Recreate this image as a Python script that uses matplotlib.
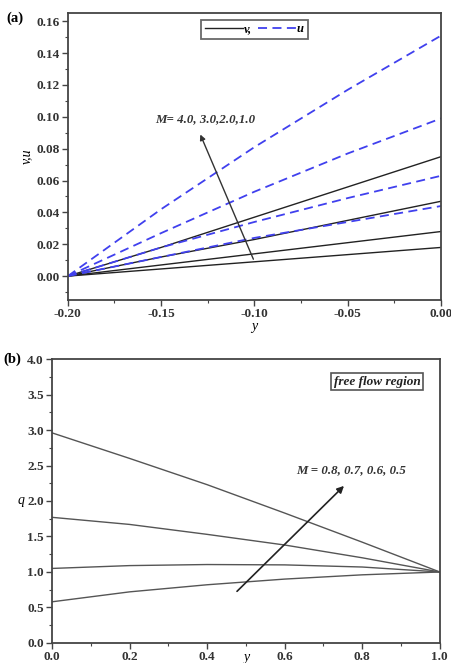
import numpy as np
import matplotlib
matplotlib.use("Agg")
import matplotlib.pyplot as plt
from matplotlib.lines import Line2D
from matplotlib.ticker import MultipleLocator

plt.rcParams['font.family'] = ['Liberation Serif', 'DejaVu Serif']
plt.rcParams['font.weight'] = 'bold'

# panel (a): y from -0.2 to 0
y_a = [-0.20, -0.15, -0.10, -0.05, 0.00]
# solid black curves (v) for M = 4.0, 3.0, 2.0, 1.0
v_curves = [
    [0.0, 0.018, 0.037, 0.056, 0.075],
    [0.0, 0.012, 0.023, 0.035, 0.047],
    [0.0, 0.007, 0.014, 0.021, 0.028],
    [0.0, 0.0045, 0.009, 0.0135, 0.018],
]
# dashed blue curves (u)
u_curves = [
    [0.0, 0.042, 0.081, 0.117, 0.151],
    [0.0, 0.027, 0.053, 0.077, 0.099],
    [0.0, 0.018, 0.034, 0.049, 0.063],
    [0.0, 0.012, 0.024, 0.034, 0.044],
]

# panel (b): y from 0 to 1
y_b = [0.0, 0.2, 0.4, 0.6, 0.8, 1.0]
q_curves = [
    [2.96, 2.60, 2.23, 1.83, 1.42, 1.00],
    [1.77, 1.67, 1.53, 1.38, 1.20, 1.00],
    [1.05, 1.09, 1.105, 1.10, 1.07, 1.00],
    [0.58, 0.72, 0.82, 0.90, 0.96, 1.00],
]

fig = plt.figure(figsize=(4.52, 6.63), dpi=100)
ax1 = fig.add_axes([0.150, 0.5475, 0.826, 0.4325])
ax2 = fig.add_axes([0.115, 0.0302, 0.858, 0.4283])

def style_axes(ax):
    for s in ax.spines.values():
        s.set_color('#444444')
        s.set_linewidth(1.3)
    ax.tick_params(which='major', direction='out', length=4, width=1.0,
                   labelsize=9.5, color='#444444', pad=2)
    ax.tick_params(which='minor', direction='out', length=2, width=0.8,
                   color='#444444')
    for lab in ax.get_xticklabels() + ax.get_yticklabels():
        lab.set_fontweight('bold')
        lab.set_color('#333333')

# ---- (a)
for c in v_curves:
    ax1.plot(y_a, c, color='#222222', lw=1.0)
for c in u_curves:
    ax1.plot(y_a, c, color='#4040ee', lw=1.3, ls=(0, (5, 3)))
ax1.set_xlim(-0.2, 0.0)
ax1.set_ylim(-0.015, 0.165)
ax1.xaxis.set_minor_locator(MultipleLocator(0.025))
ax1.yaxis.set_minor_locator(MultipleLocator(0.01))
ax1.set_xticks([-0.2, -0.15, -0.1, -0.05, 0.0])
ax1.set_xticklabels(['-0.20', '-0.15', '-0.10', '-0.05', '0.00'])
ax1.set_yticks(np.arange(0, 0.161, 0.02))
ax1.set_yticklabels(['%.2f' % t for t in np.arange(0, 0.161, 0.02)])
style_axes(ax1)
ax1.set_xlabel('y', style='italic', fontsize=10, labelpad=0)
ax1.set_ylabel('v,u', style='italic', fontsize=10, labelpad=2)
ax1.annotate('', xy=(-0.1296, 0.0905), xytext=(-0.1, 0.009),
             arrowprops=dict(arrowstyle='-|>', color='#333333', lw=1.0,
                             mutation_scale=8))
ax1.text(-0.1534, 0.0988, 'M= 4.0, 3.0,2.0,1.0', style='italic',
         fontsize=9.3, va='center', ha='left', color='#333333')
handles = [Line2D([], [], color='#222222', lw=1.0),
           Line2D([], [], color='#4040ee', lw=1.3, ls=(0, (5, 3)))]
leg = ax1.legend(handles, ['v,', 'u'], ncol=2, loc='upper center',
                 bbox_to_anchor=(0.50, 1.0), frameon=True, fancybox=False,
                 handlelength=3.0, handletextpad=0.1, columnspacing=0.5,
                 borderpad=0.3, prop={'style': 'italic', 'weight': 'bold',
                                      'size': 9})
leg.get_frame().set_edgecolor('#444444')
leg.get_frame().set_linewidth(1.3)
fig.text(0.015, 0.972, '(a)', fontsize=10.5, fontweight='bold', va='center')

# ---- (b)
for c in q_curves:
    ax2.plot(y_b, c, color='#555555', lw=1.0)
ax2.set_xlim(0, 1)
ax2.set_ylim(0, 4)
ax2.xaxis.set_minor_locator(MultipleLocator(0.1))
ax2.yaxis.set_minor_locator(MultipleLocator(0.25))
ax2.set_xticks(np.arange(0, 1.01, 0.2))
ax2.set_xticklabels(['%.1f' % t for t in np.arange(0, 1.01, 0.2)])
ax2.set_yticks(np.arange(0, 4.01, 0.5))
ax2.set_yticklabels(['%.1f' % t for t in np.arange(0, 4.01, 0.5)])
style_axes(ax2)
ax2.set_xlabel('y', style='italic', fontsize=10, labelpad=-9)
ax2.set_ylabel('q', style='italic', fontsize=10, labelpad=4, rotation=0,
               va='center')
ax2.annotate('', xy=(0.758, 2.24), xytext=(0.472, 0.70),
             arrowprops=dict(arrowstyle='-|>', color='#222222', lw=1.2,
                             mutation_scale=10))
ax2.text(0.63, 2.44, 'M = 0.8, 0.7, 0.6, 0.5', style='italic',
         fontsize=9.3, va='center', ha='left', color='#333333')
ax2.text(0.95, 3.68, 'free flow region', style='italic', fontsize=9.5,
         va='center', ha='right', color='#222222',
         bbox=dict(boxstyle='square,pad=0.2', fc='white', ec='#555555',
                   lw=1.2))
fig.text(0.008, 0.4585, '(b)', fontsize=10.5, fontweight='bold', va='center')

fig.savefig('out.png', dpi=100)
